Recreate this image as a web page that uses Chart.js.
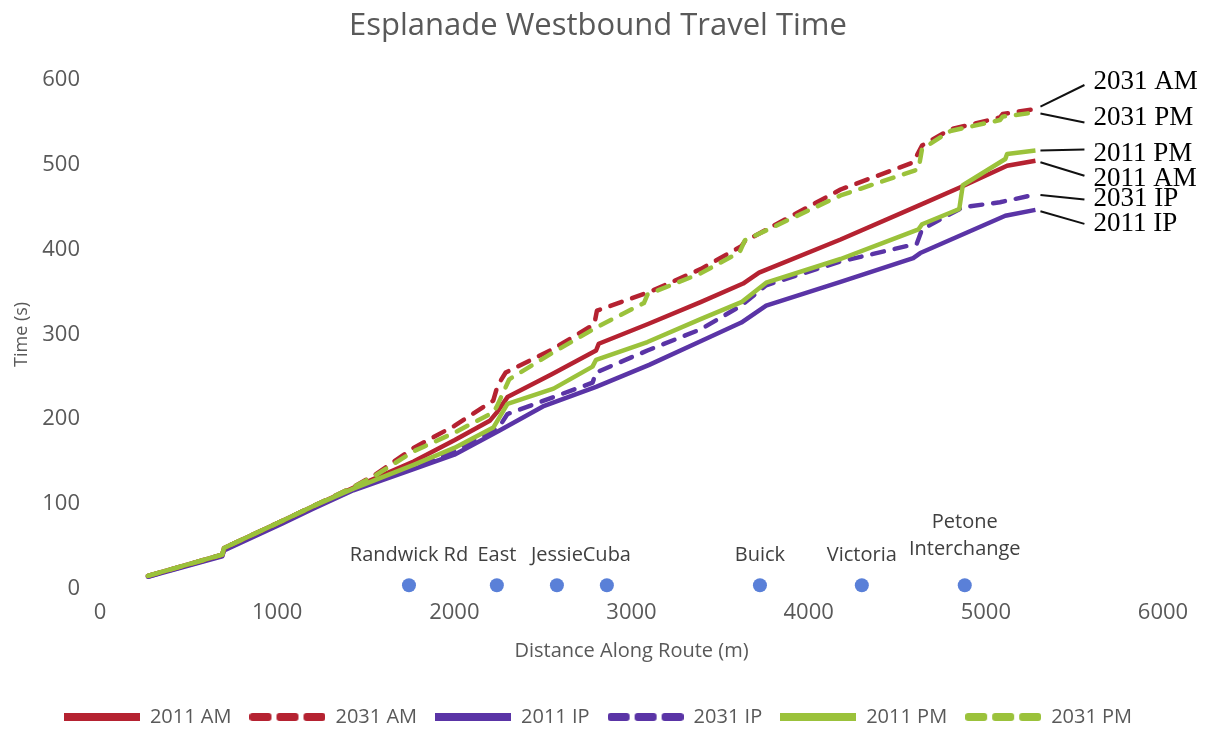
<!DOCTYPE html>
<html>
<head>
<meta charset="utf-8">
<script src="https://cdn.jsdelivr.net/npm/chart.js@4.4.1/dist/chart.umd.min.js"></script>
<style>
  html, body { margin: 0; padding: 0; background: #ffffff; }
  canvas { display: block; }
</style>
</head>
<body>
<canvas id="chart" width="1216" height="733"></canvas>
<script>
// Cumulative travel time (s) against distance along the route (m), per scenario
const dist2011AM = [270, 690, 700, 1030, 1200, 1430, 1770, 2000, 2200, 2240, 2300, 2550, 2800, 2815, 3090, 3390, 3630, 3720, 4180, 4620, 4850, 5120, 5280];
const time2011AM = [15, 40, 48, 80, 97, 119, 150, 175, 198, 208, 226, 253, 281, 289, 312, 338, 360, 373, 412, 452, 473, 499, 505];

const dist2031AM = [270, 690, 700, 1030, 1200, 1430, 1550, 1770, 2000, 2220, 2245, 2290, 2550, 2790, 2805, 3100, 3390, 3620, 3640, 4180, 4590, 4640, 4800, 5080, 5095, 5280];
const time2031AM = [15, 40, 48, 80, 97, 120, 134, 166, 192, 222, 240, 255, 282, 312, 328, 350, 377, 404, 410, 471, 503, 523, 542, 556, 560, 566];

const dist2011IP = [270, 690, 700, 1030, 1200, 1430, 1770, 2000, 2250, 2500, 2800, 3100, 3390, 3620, 3760, 4180, 4590, 4630, 5110, 5280];
const time2011IP = [14, 38, 45, 77, 94, 116, 141, 158, 186, 215, 238, 264, 292, 314, 334, 362, 390, 396, 440, 447];

const dist2031IP = [270, 690, 700, 1030, 1200, 1430, 1770, 2000, 2250, 2300, 2780, 2800, 3090, 3390, 3620, 3760, 4180, 4610, 4640, 4870, 5080, 5280];
const time2031IP = [14, 39, 46, 78, 95, 117, 142, 162, 190, 206, 243, 255, 281, 306, 334, 358, 386, 407, 424, 450, 456, 465];

const dist2011PM = [270, 690, 700, 1030, 1200, 1430, 1770, 2000, 2220, 2300, 2560, 2780, 2800, 3090, 3390, 3620, 3760, 4180, 4420, 4620, 4640, 4850, 4870, 5110, 5120, 5280];
const time2011PM = [15, 40, 48, 80, 97, 118, 146, 166, 190, 218, 236, 262, 270, 291, 318, 338, 361, 389, 408, 424, 430, 448, 476, 507, 513, 517];

const dist2031PM = [270, 690, 700, 1030, 1200, 1430, 1550, 1770, 2000, 2220, 2240, 2310, 2560, 2800, 3070, 3090, 3390, 3610, 3640, 4180, 4620, 4640, 4800, 5080, 5095, 5280];
const time2031PM = [15, 40, 48, 80, 97, 120, 133, 162, 184, 208, 215, 247, 279, 308, 337, 347, 372, 397, 411, 464, 495, 519, 540, 553, 557, 562];

// Intersections along the route
const stationNames = [['Randwick Rd'], ['East'], ['Jessie'], ['Cuba'], ['Buick'], ['Victoria'], ['Petone', 'Interchange']];
const stationDist = [1744, 2240, 2579, 2861, 3725, 4300, 4881];
const stationTime = [4, 4, 4, 4, 4, 4, 4];

const seriesNames = ['2011 AM', '2031 AM', '2011 IP', '2031 IP', '2011 PM', '2031 PM'];

const RED = '#b52231';
const PURPLE = '#5a34a6';
const GREEN = '#9bc23b';
const GREY = '#595959';
const SANS = '"Open Sans", "Noto Sans", sans-serif';

const pts = (d, t) => d.map((x, i) => ({ x: x, y: t[i] }));

function routeLine(name, d, t, color, dashed, order, endLabel) {
  return {
    label: name,
    data: pts(d, t),
    borderColor: color,
    backgroundColor: color,
    borderWidth: 4.5,
    borderDash: dashed ? [12, 11] : [],
    borderCapStyle: dashed ? 'round' : 'butt',
    borderJoinStyle: 'round',
    pointRadius: 0,
    pointHoverRadius: 0,
    tension: 0,
    fill: false,
    order: order,
    inLegend: true,
    dashed: dashed,
    endLabel: endLabel
  };
}

const datasets = [
  routeLine(seriesNames[0], dist2011AM, time2011AM, RED, false, 1, { dy: 18, ly: 15 }),
  routeLine(seriesNames[1], dist2031AM, time2031AM, RED, true, 1, { dy: -27, ly: -24 }),
  routeLine(seriesNames[2], dist2011IP, time2011IP, PURPLE, false, 2, { dy: 14, ly: 14 }),
  routeLine(seriesNames[3], dist2031IP, time2031IP, PURPLE, true, 2, { dy: 4, ly: 5 }),
  routeLine(seriesNames[4], dist2011PM, time2011PM, GREEN, false, 0, { dy: 3, ly: -1 }),
  routeLine(seriesNames[5], dist2031PM, time2031PM, GREEN, true, 0, { dy: 6, ly: 10 }),
  {
    label: 'Intersections',
    type: 'scatter',
    data: pts(stationDist, stationTime),
    names: stationNames,
    showLine: false,
    clip: false,
    pointRadius: 7,
    pointHoverRadius: 7,
    pointBackgroundColor: '#5a80d8',
    pointBorderColor: '#5a80d8',
    borderWidth: 0,
    order: 3,
    inLegend: false
  }
];

// Line sample used as the legend marker
function legendSample(color, dashed) {
  const c = document.createElement('canvas');
  c.width = 76; c.height = 8;
  const g = c.getContext('2d');
  g.fillStyle = color;
  if (dashed) {
    for (let k = 0; k < 3; k++) {
      g.beginPath();
      g.roundRect(k * 27, 0, 22, 8, 3);
      g.fill();
    }
  } else {
    g.fillRect(0, 0, 76, 8);
  }
  return c;
}

// Names of the intersections above their markers
const stationLabels = {
  id: 'stationLabels',
  afterDatasetsDraw(chart) {
    const ctx = chart.ctx;
    chart.data.datasets.forEach((ds, di) => {
      if (!ds.names) return;
      const meta = chart.getDatasetMeta(di);
      ctx.save();
      ctx.font = '20px ' + SANS;
      ctx.fillStyle = '#404040';
      ctx.textAlign = 'center';
      ctx.textBaseline = 'middle';
      meta.data.forEach((pt, i) => {
        const lines = ds.names[i];
        const n = lines.length;
        lines.forEach((line, k) => {
          const offset = n > 1 ? 36 + (n - 1 - k) * 27 : 30;
          ctx.fillText(line, pt.x, pt.y - offset);
        });
      });
      ctx.restore();
    });
  }
};

// Series names at the ends of the lines, with leader strokes
const endLabels = {
  id: 'endLabels',
  afterDatasetsDraw(chart) {
    const ctx = chart.ctx;
    chart.data.datasets.forEach((ds, di) => {
      if (!ds.endLabel) return;
      const meta = chart.getDatasetMeta(di);
      const last = meta.data[meta.data.length - 1];
      const ex = last.x, ey = last.y;
      ctx.save();
      ctx.strokeStyle = '#111111';
      ctx.lineWidth = 2;
      ctx.beginPath();
      ctx.moveTo(ex + 5, ey + ds.endLabel.ly * 0.1);
      ctx.lineTo(ex + 49, ey + ds.endLabel.ly);
      ctx.stroke();
      ctx.font = '27px "Liberation Serif", "DejaVu Serif", serif';
      ctx.fillStyle = '#000000';
      ctx.textAlign = 'left';
      ctx.textBaseline = 'middle';
      ctx.fillText(ds.label, ex + 58, ey + ds.endLabel.dy);
      ctx.restore();
    });
  }
};

new Chart(document.getElementById('chart'), {
  type: 'line',
  data: { datasets: datasets },
  plugins: [stationLabels, endLabels],
  options: {
    responsive: false,
    animation: false,
    events: [],
    layout: { padding: { left: 0, right: 20, top: 0, bottom: -4 } },
    plugins: {
      title: {
        display: true,
        text: 'Esplanade Westbound Travel Time',
        color: GREY,
        font: { family: SANS, size: 31, weight: 'normal', lineHeight: 1.2 },
        padding: { top: 8, bottom: 35 }
      },
      legend: {
        display: true,
        position: 'bottom',
        labels: {
          usePointStyle: true,
          pointStyleWidth: 76,
          padding: 18,
          color: GREY,
          font: { family: SANS, size: 20 },
          generateLabels(chart) {
            return chart.data.datasets.map((ds, i) => ({ ds, i }))
              .filter(o => o.ds.inLegend)
              .map(o => ({
                text: o.ds.label,
                pointStyle: legendSample(o.ds.borderColor, o.ds.dashed),
                fillStyle: o.ds.borderColor,
                strokeStyle: o.ds.borderColor,
                lineWidth: 0,
                fontColor: GREY,
                hidden: false,
                datasetIndex: o.i
              }));
          }
        }
      },
      tooltip: { enabled: false }
    },
    scales: {
      x: {
        type: 'linear',
        min: 0,
        max: 6000,
        ticks: {
          stepSize: 1000, padding: 11, color: GREY, maxRotation: 0,
          font: { family: SANS, size: 22 },
          callback: (v) => String(v)
        },
        grid: { display: false, drawTicks: false },
        border: { display: false },
        title: {
          display: true,
          text: 'Distance Along Route (m)',
          color: GREY,
          font: { family: SANS, size: 20, lineHeight: 1.2 },
          padding: { top: 2, bottom: 26 }
        }
      },
      y: {
        min: 0,
        max: 600,
        ticks: {
          stepSize: 100, padding: 20, color: GREY,
          font: { family: SANS, size: 22 },
          callback: (v) => String(v)
        },
        grid: { display: false, drawTicks: false },
        border: { display: false },
        title: {
          display: true,
          text: 'Time (s)',
          color: GREY,
          font: { family: SANS, size: 18, lineHeight: 1.2 },
          padding: { top: 11, bottom: 0 }
        },
        afterFit(scale) { scale.width = 100; }
      },
      // empty right-hand margin that keeps room for the series names
      yRight: {
        position: 'right',
        min: 0,
        max: 600,
        ticks: { display: false },
        grid: { display: false, drawTicks: false },
        border: { display: false },
        afterFit(scale) { scale.width = 33; }
      }
    }
  }
});
</script>
</body>
</html>
